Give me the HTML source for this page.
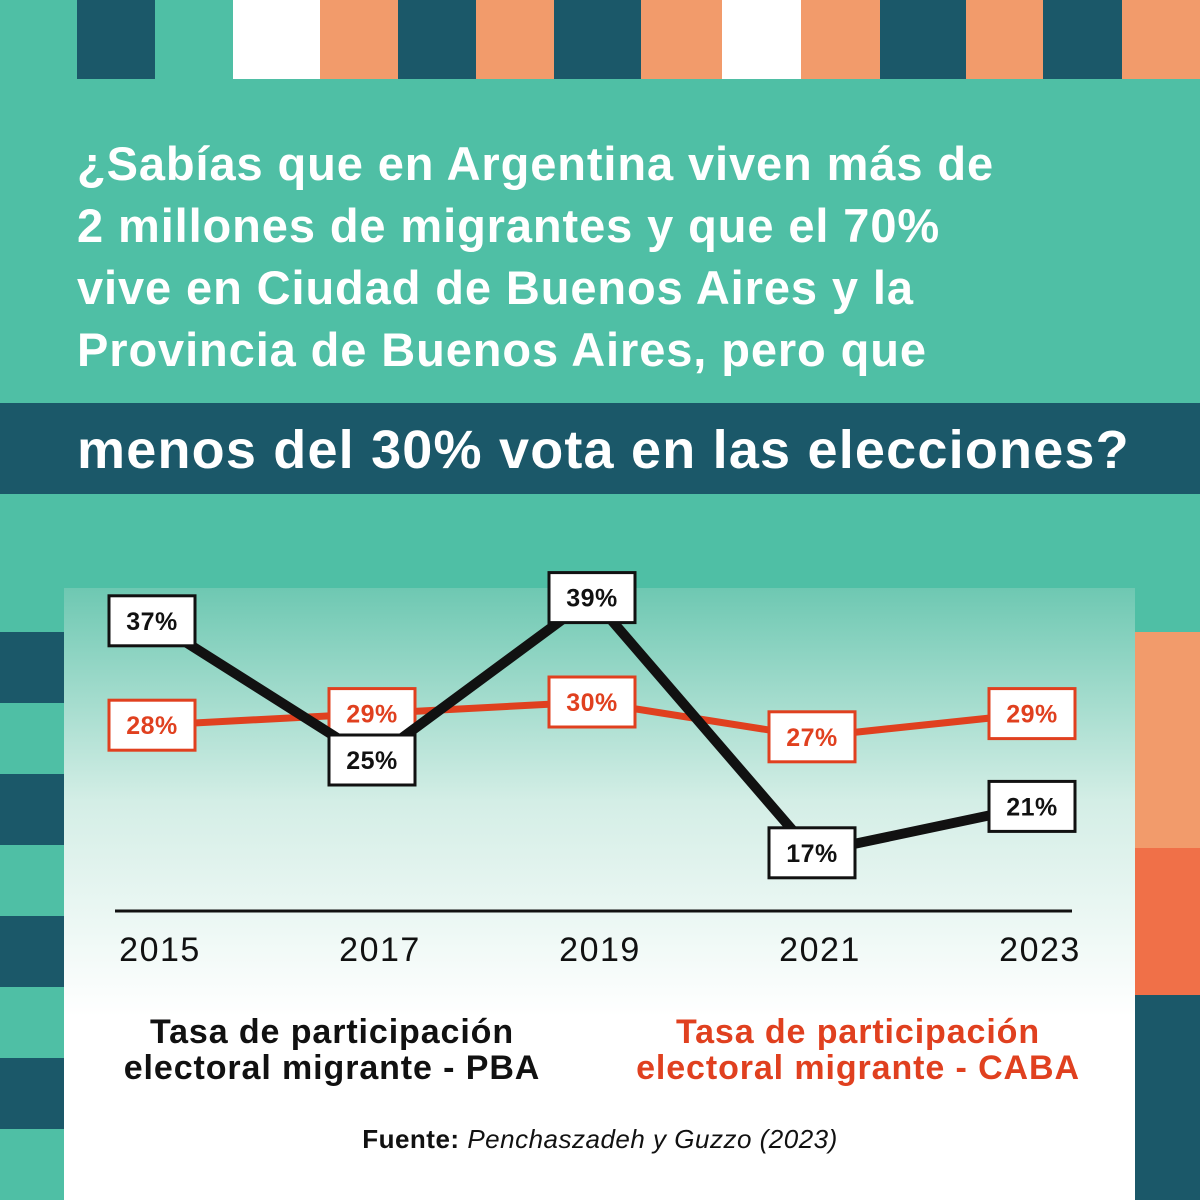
<!DOCTYPE html>
<html><head><meta charset="utf-8"><style>
body{margin:0;width:1200px;height:1200px;overflow:hidden;background:#4fbfa5;font-family:"Liberation Sans",sans-serif;position:relative}
.a{position:absolute}
</style></head><body>
<div class="a" style="left:0;top:0;width:1200px;height:79px;display:flex">
<div style="width:77px;background:#4fbfa5"></div><div style="width:78px;background:#1b5869"></div><div style="width:78px;background:#4fbfa5"></div><div style="width:87px;background:#fff"></div><div style="width:78px;background:#f29b6b"></div><div style="width:78px;background:#1b5869"></div><div style="width:78px;background:#f29b6b"></div><div style="width:87px;background:#1b5869"></div><div style="width:81px;background:#f29b6b"></div><div style="width:79px;background:#fff"></div><div style="width:79px;background:#f29b6b"></div><div style="width:86px;background:#1b5869"></div><div style="width:77px;background:#f29b6b"></div><div style="width:79px;background:#1b5869"></div><div style="width:78px;background:#f29b6b"></div>
</div>
<div class="a" style="left:77px;top:133px;color:#fff;font-weight:bold;font-size:47px;line-height:62px;letter-spacing:0.9px;white-space:nowrap">¿Sabías que en Argentina viven más de<br>2 millones de migrantes y que el 70%<br>vive en Ciudad de Buenos Aires y la<br>Provincia de Buenos Aires, pero que</div>
<div class="a" style="left:0;top:403px;width:1200px;height:91px;background:#1b5869"></div>
<div class="a" style="left:77px;top:418px;color:#fff;font-weight:bold;font-size:54px;line-height:64px;letter-spacing:1.2px;white-space:nowrap">menos del 30% vota en las elecciones?</div>
<div class="a" style="left:0;top:632px;width:64px;height:568px;background:repeating-linear-gradient(#1b5869 0 71px,#4fbfa5 71px 142px)"></div>
<div class="a" style="left:1135px;top:632px;width:65px;height:568px;background:linear-gradient(#f29b6b 0 216px,#f07048 216px 363px,#1b5869 363px)"></div>
<div class="a" style="left:64px;top:588px;width:1071px;height:612px;background:linear-gradient(#6ec8b2 0%,#d4eee6 35%,#fff 70%,#fff)"></div>
<svg class="a" style="left:0;top:0" width="1200" height="1200" id="chart"></svg>
<div class="a" style="left:82px;top:1014px;width:500px;text-align:center;font-weight:bold;font-size:34px;letter-spacing:0.9px;line-height:36px;color:#111;white-space:nowrap">Tasa de participación<br>electoral migrante - PBA</div>
<div class="a" style="left:608px;top:1014px;width:500px;text-align:center;font-weight:bold;font-size:34px;letter-spacing:0.9px;line-height:36px;color:#e0401f;white-space:nowrap">Tasa de participación<br>electoral migrante - CABA</div>
<div class="a" style="left:0;top:1124px;width:1200px;text-align:center;font-size:26px;letter-spacing:0.5px;color:#111"><b>Fuente:</b> <i>Penchaszadeh y Guzzo (2023)</i></div>
<script>
const years=["2015","2017","2019","2021","2023"];
const pba=[37,25,39,17,21];
const caba=[28,29,30,27,29];
const svg=document.getElementById('chart');
const NS='http://www.w3.org/2000/svg';
const x=i=>152+i*220;
const y=v=>1050-v*11.6;
function mk(t,a){const e=document.createElementNS(NS,t);for(const k in a)e.setAttribute(k,a[k]);svg.appendChild(e);return e;}
const ax=mk('line',{x1:115,x2:1072,y1:911,y2:911,stroke:'#111','stroke-width':3});


years.forEach((yr,i)=>{const t=mk('text',{x:x(i)+8,y:961,'text-anchor':'middle','font-size':34,'letter-spacing':1.5,fill:'#111','font-family':'Liberation Sans'});t.textContent=yr;

});
function series(vals,col,w,name){
const p=mk('polyline',{points:vals.map((v,i)=>x(i)+','+y(v)).join(' '),fill:'none',stroke:col,'stroke-width':w});


vals.forEach((v,i)=>{
const r=mk('rect',{x:x(i)-43,y:y(v)-25,width:86,height:50,fill:'#fff',stroke:col,'stroke-width':3});


const t=mk('text',{x:x(i),y:y(v)+9,'text-anchor':'middle','font-size':25,'font-weight':'bold','letter-spacing':0.5,fill:col,'font-family':'Liberation Sans'});t.textContent=v+'%';

});
}
series(caba,'#e0401f',7,'caba');
series(pba,'#111',10,'pba');
</script>
</body></html>
